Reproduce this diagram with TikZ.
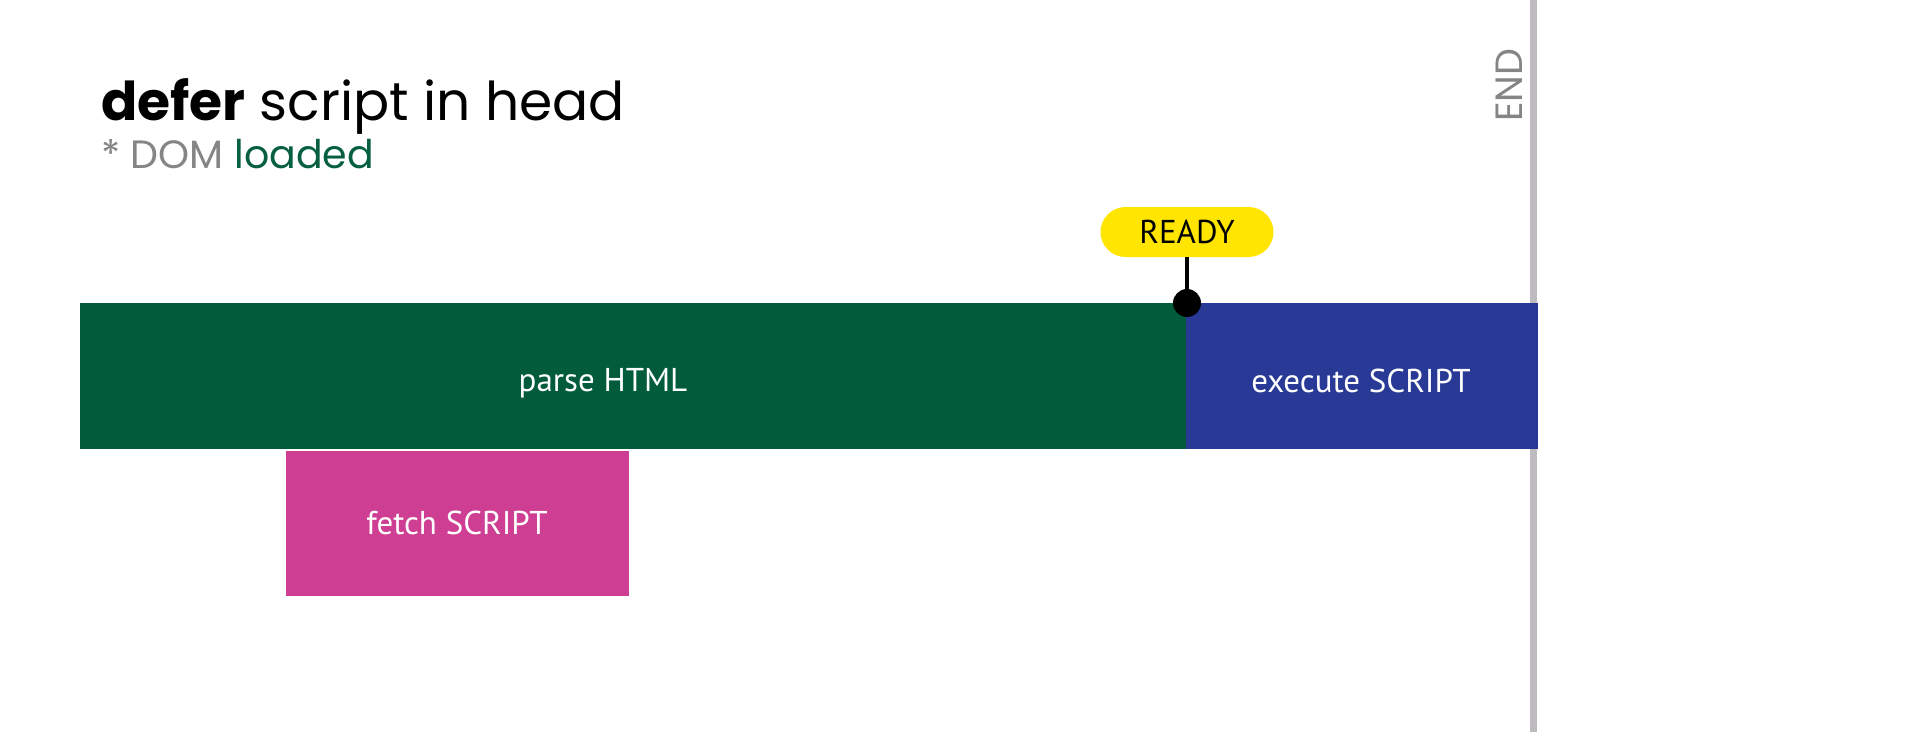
\documentclass[tikz,border=0pt]{standalone}
\usepackage{fontspec}
\setmainfont{Poppins}
\newfontfamily\barfont{PT Sans}
\definecolor{parsegreen}{HTML}{025C3B}
\definecolor{execblue}{HTML}{283A95}
\definecolor{fetchpink}{HTML}{CE3E93}
\definecolor{readyyellow}{HTML}{FFE500}
\definecolor{endgray}{HTML}{BDBBBE}
\definecolor{subgray}{HTML}{858585}
\definecolor{loadgreen}{HTML}{06603F}
\begin{document}
\begin{tikzpicture}[x=1pt,y=-1pt,
  bar/.style={draw=none, rectangle, inner sep=0pt, anchor=north west},
  bartext/.style={text=white, inner sep=0pt, font=\barfont\fontsize{33}{40}\selectfont},
]
\useasboundingbox (0,0) rectangle (1920,732);
\fill[white] (0,0) rectangle (1920,732);
% END line
\fill[endgray] (1530,0) rectangle (1537,732);
\node[rotate=90, text=subgray, font=\fontsize{38}{44}\selectfont, inner sep=0pt] (endlbl) at (1509,85) {END};
% title
\node[anchor=base west, inner sep=0pt, font=\fontsize{53.5}{60}\selectfont] (title) at (101,120) {\textbf{defer} script in head};
\node[anchor=base west, inner sep=0pt, font=\fontsize{39.5}{46}\selectfont] (sub) at (101,168) {\textcolor{subgray}{* DOM} \textcolor{loadgreen}{loaded}};
% bars
\node[bar, fill=parsegreen, minimum width=1106, minimum height=146] (parse) at (80,303) {};
\node[bartext] (parsetxt) at (603,383) {parse HTML};
\node[bar, fill=execblue, minimum width=352, minimum height=146] (exec) at (1186,303) {};
\node[bartext] (exectxt) at (1361,381) {execute SCRIPT};
\node[bar, fill=fetchpink, minimum width=343, minimum height=145] (fetch) at (286,451) {};
\node[bartext] (fetchtxt) at (457,523) {fetch SCRIPT};
% READY marker
\node[fill=readyyellow, rounded corners=25pt, minimum width=173, minimum height=50, inner sep=0pt,
  font=\barfont\fontsize{33}{40}\selectfont] (ready) at (1187,232) {\raisebox{-2.5pt}{READY}};
\node[circle, fill=black, minimum size=28, inner sep=0pt] (dot) at (1187,303) {};
\draw[line width=4.5] (ready.south) -- (dot.center);
\end{tikzpicture}
\end{document}
